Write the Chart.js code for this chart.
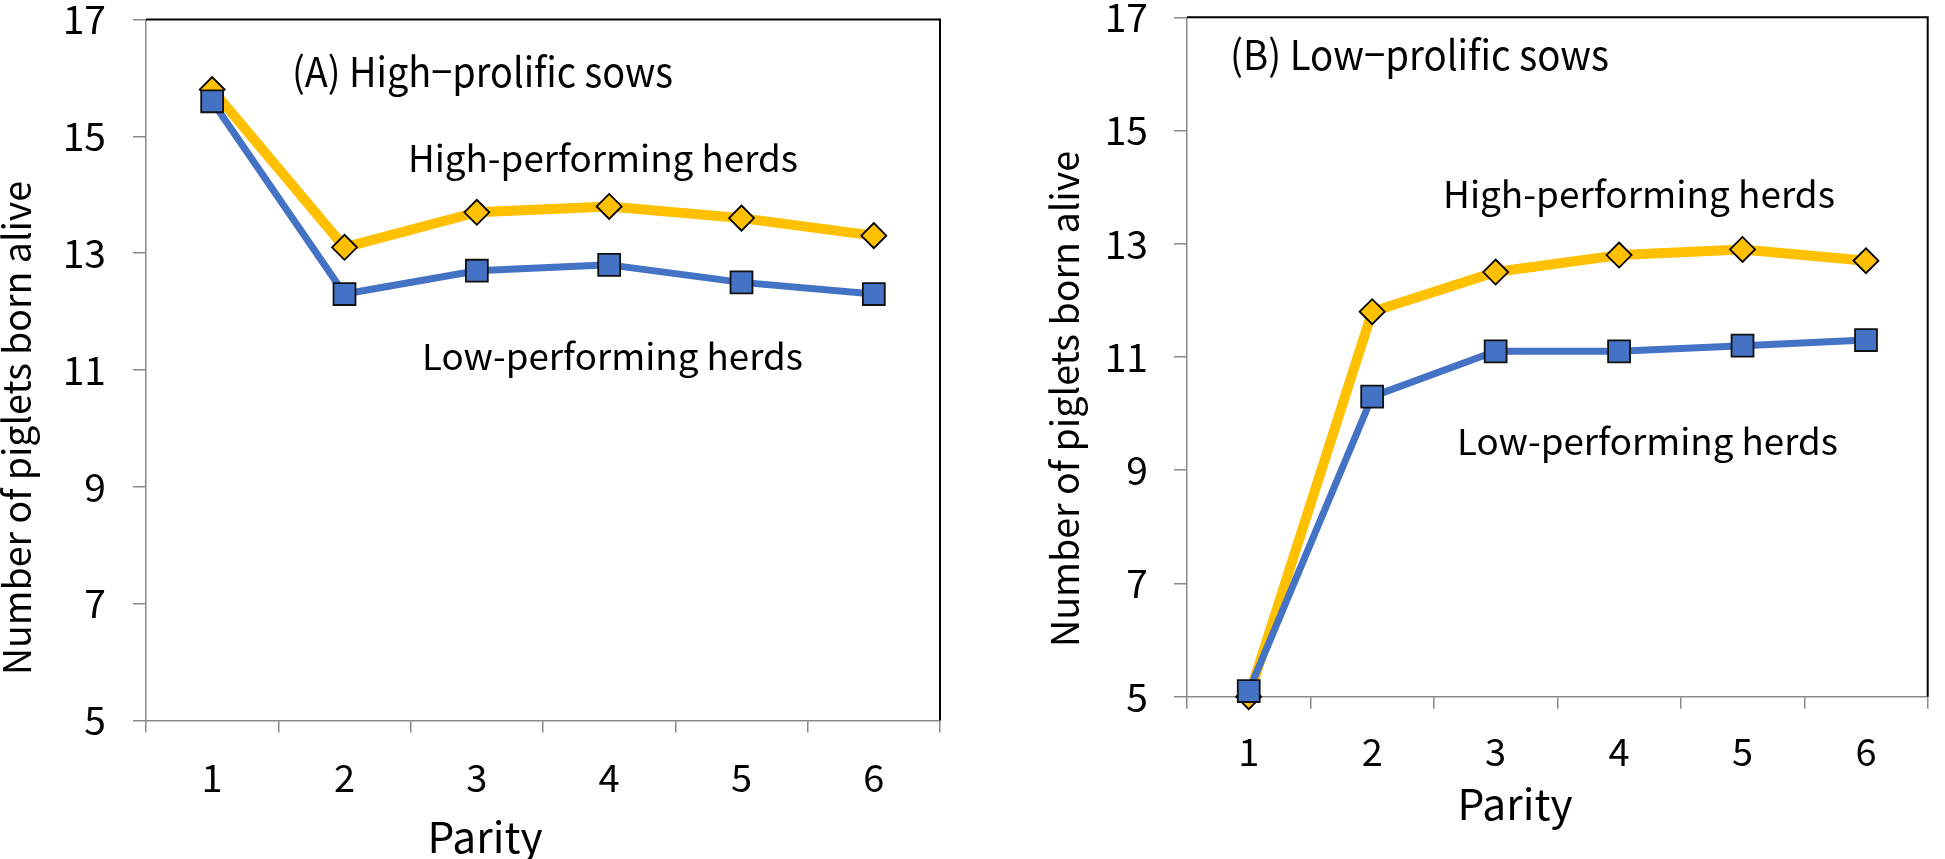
<!DOCTYPE html>
<html><head><meta charset="utf-8">
<script src="https://cdn.jsdelivr.net/npm/chart.js@4.4.1/dist/chart.umd.min.js"></script>
<style>
html,body{margin:0;padding:0;background:#fff;width:1945px;height:859px;overflow:hidden;}
canvas{position:absolute;top:0;}
#cA{left:0px}
#cB{left:975px}
</style></head><body>
<canvas id="cA" width="975" height="859"></canvas>
<canvas id="cB" width="970" height="859"></canvas>
<script>
// ---- data ----
const parity = ['1', '2', '3', '4', '5', '6'];
const yTickValues = [5, 7, 9, 11, 13, 15, 17];
const highA = [15.8, 13.1, 13.7, 13.8, 13.6, 13.3];
const lowA  = [15.6, 12.3, 12.7, 12.8, 12.5, 12.3];
const highB = [5.0, 11.8, 12.5, 12.8, 12.9, 12.7];
const lowB  = [5.1, 10.3, 11.1, 11.1, 11.2, 11.3];
const panelTitleA = '(A) High\u2212prolific sows';
const panelTitleB = '(B) Low\u2212prolific sows';
const highLabel = 'High-performing herds';
const lowLabel = 'Low-performing herds';
const xTitle = 'Parity';
const yTitle = 'Number of piglets born alive';

// ---- style ----
const FONT = '"Noto Sans CJK JP", "Noto Sans", sans-serif';
const GOLD = '#FFC000';
const BLUE = '#4472C4';
const AXIS = '#8a8a8a';

// draw text with given font size, horizontally scaled to a target width
function drawFitted(ctx, text, x, y, size, width, align) {
  ctx.font = size + 'px ' + FONT;
  const w = ctx.measureText(text).width;
  const sx = width / w;
  ctx.save();
  ctx.translate(x, y);
  ctx.scale(sx, 1);
  ctx.textAlign = align;
  ctx.fillText(text, 0, 0);
  ctx.restore();
}

const overlay = {
  id: 'overlay',
  beforeDatasetsDraw(chart, args, o) {
    const ctx = chart.ctx, a = chart.chartArea;
    ctx.save();
    ctx.strokeStyle = '#000';
    ctx.lineWidth = 2;
    ctx.beginPath();
    ctx.moveTo(a.left, a.top);
    ctx.lineTo(a.right, a.top);
    ctx.lineTo(a.right, a.bottom);
    ctx.stroke();
    ctx.restore();
  },
  afterDraw(chart, args, o) {
    const ctx = chart.ctx;
    ctx.save();
    ctx.fillStyle = '#000';
    ctx.textBaseline = 'alphabetic';
    (o.texts || []).forEach(t => drawFitted(ctx, t.text, t.x, t.y, t.s, t.w, 'left'));
    if (o.xt) drawFitted(ctx, xTitle, o.xt.cx, o.xt.y, o.xt.s, o.xt.w, 'center');
    if (o.yt) {
      ctx.save();
      ctx.translate(o.yt.cx, o.yt.cy);
      ctx.rotate(-Math.PI / 2);
      ctx.textBaseline = 'middle';
      drawFitted(ctx, yTitle, 0, 0, o.yt.s, o.yt.w, 'center');
      ctx.restore();
    }
    ctx.restore();
  }
};

function makeChart(id, high, low, L) {
  const canvas = document.getElementById(id);
  const W = canvas.width, H = canvas.height;
  return new Chart(canvas, {
    type: 'line',
    data: {
      labels: parity,
      datasets: [
        {
          label: highLabel, data: high, order: 1,
          borderColor: GOLD, borderWidth: 10, borderJoinStyle: 'round', borderCapStyle: 'round',
          pointStyle: 'rectRot', pointRadius: 12.5, pointBackgroundColor: GOLD,
          pointBorderColor: '#000', pointBorderWidth: 1.8, tension: 0, clip: false
        },
        {
          label: lowLabel, data: low, order: 0,
          borderColor: BLUE, borderWidth: 7, borderJoinStyle: 'round', borderCapStyle: 'round',
          pointStyle: 'rect', pointRadius: 15.5, pointBackgroundColor: BLUE,
          pointBorderColor: '#111', pointBorderWidth: 1.8, tension: 0, clip: false
        }
      ]
    },
    options: {
      responsive: false,
      animation: false,
      devicePixelRatio: 1,
      layout: { padding: { left: 0, top: L.top, right: W - L.right, bottom: 0 } },
      plugins: {
        legend: { display: false },
        tooltip: { enabled: false },
        overlay: { texts: L.texts, xt: L.xt, yt: L.yt }
      },
      scales: {
        x: {
          type: 'category', offset: true,
          grid: { offset: true, drawOnChartArea: false, drawTicks: true, tickLength: 12, color: AXIS, lineWidth: 1.5 },
          border: { color: AXIS, width: 1.5 },
          ticks: { color: '#000', padding: L.xPad, font: { family: FONT, size: 38, lineHeight: 1 }, maxRotation: 0 },
          afterFit(s) { s.height = H - L.bottom; s.paddingLeft = 0; s.paddingRight = 0; }
        },
        y: {
          min: 5, max: 17,
          afterBuildTicks(s) { s.ticks = yTickValues.map(v => ({ value: v })); },
          grid: { drawOnChartArea: false, drawTicks: true, tickLength: 13, color: AXIS, lineWidth: 1.5 },
          border: { color: AXIS, width: 1.5 },
          ticks: { color: '#000', padding: L.yPad, font: { family: FONT, size: 39, lineHeight: 1 } },
          afterFit(s) { s.width = L.left; s.paddingTop = 0; s.paddingBottom = 0; }
        }
      }
    },
    plugins: [overlay]
  });
}

makeChart('cA', highA, lowA, {
  left: 146, right: 940, top: 19.5, bottom: 720.5, xPad: 26, yPad: 27,
  texts: [
    { text: panelTitleA, x: 292, y: 87, s: 41, w: 381 },
    { text: highLabel, x: 408, y: 172, s: 37, w: 390 },
    { text: lowLabel, x: 422, y: 370, s: 36, w: 381 }
  ],
  xt: { cx: 485, y: 853, s: 42, w: 115 },
  yt: { cx: 17, cy: 428, s: 38, w: 494 }
});

const OB = 975;
makeChart('cB', highB, lowB, {
  left: 1187 - OB, right: 1943 - OB, top: 14.3, bottom: 696.7, xPad: 24, yPad: 26,
  texts: [
    { text: panelTitleB, x: 1230 - OB, y: 70, s: 41, w: 379 },
    { text: highLabel, x: 1443 - OB, y: 208, s: 37, w: 392 },
    { text: lowLabel, x: 1457 - OB, y: 455, s: 36, w: 381 }
  ],
  xt: { cx: 1515 - OB, y: 820, s: 42, w: 115 },
  yt: { cx: 1065 - OB, cy: 399, s: 38, w: 496 }
});
</script>
</body></html>
